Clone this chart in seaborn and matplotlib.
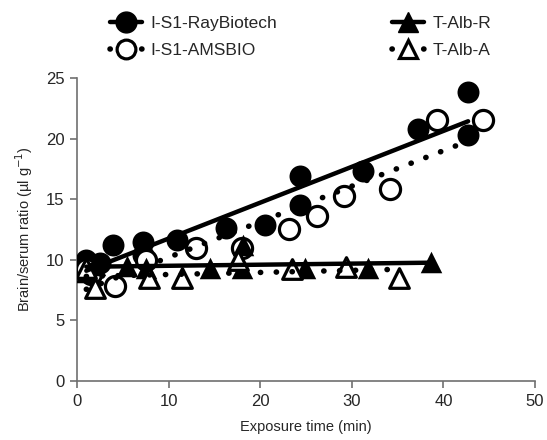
import matplotlib
matplotlib.use("Agg")
import matplotlib.pyplot as plt
from matplotlib.lines import Line2D
import seaborn as sns
import numpy as np

# ---- data ----
ray_x = [1.0, 1.5, 2.5, 3.9, 7.2, 7.2, 10.9, 16.3, 20.5, 24.3, 24.3, 31.2, 37.2, 42.7, 42.7]
ray_y = [10.0, 9.3, 9.7, 11.2, 11.5, 10.4, 11.6, 12.6, 12.9, 16.9, 14.5, 17.3, 20.8, 23.8, 20.3]

ams_x = [1.0, 1.5, 4.1, 7.5, 13.0, 18.0, 23.1, 26.2, 29.1, 34.2, 39.3, 44.3]
ams_y = [9.2, 8.8, 7.8, 10.0, 11.0, 11.0, 12.5, 13.6, 15.3, 15.8, 21.5, 21.5]

albr_x = [1.0, 2.0, 5.4, 7.5, 14.5, 18.0, 18.1, 24.9, 31.8, 38.7]
albr_y = [9.0, 9.6, 9.5, 9.3, 9.3, 9.3, 11.2, 9.3, 9.3, 9.8]

alba_x = [1.0, 2.0, 7.8, 11.4, 17.6, 23.5, 29.4, 35.1]
alba_y = [9.3, 7.7, 8.5, 8.5, 10.0, 9.2, 9.4, 8.5]

labels = ["I-S1-RayBiotech", "I-S1-AMSBIO", "T-Alb-R", "T-Alb-A"]
x_ticks = [0, 10, 20, 30, 40, 50]
y_ticks = [0, 5, 10, 15, 20, 25]

sns.set_style("white")
plt.rcParams["font.family"] = ["Liberation Sans", "DejaVu Sans"]

fig = plt.figure(figsize=(5.47, 4.40), dpi=100)
ax = fig.add_axes([0.141, 0.134, 0.837, 0.689])

dotted = (0, (0.05, 2.8))

# markers
sns.scatterplot(x=ray_x, y=ray_y, ax=ax, marker="o", s=250, color="black",
                edgecolor="black", linewidth=0, zorder=3)
sns.scatterplot(x=ams_x, y=ams_y, ax=ax, marker="o", s=210, color="white",
                edgecolor="black", linewidth=2.3, zorder=3)
sns.scatterplot(x=albr_x, y=albr_y, ax=ax, marker="^", s=240, color="black",
                edgecolor="black", linewidth=0, zorder=3)
sns.scatterplot(x=alba_x, y=alba_y, ax=ax, marker="^", s=200, color="white",
                edgecolor="black", linewidth=2.3, zorder=3)

# linear trend lines
sns.regplot(x=np.array(ray_x), y=np.array(ray_y), ax=ax, scatter=False, ci=None,
            line_kws=dict(color="black", lw=3.2, zorder=4))
sns.regplot(x=np.array(ams_x), y=np.array(ams_y), ax=ax, scatter=False, ci=None,
            line_kws=dict(color="black", lw=4.0, ls=dotted, dash_capstyle="round", zorder=4))
sns.regplot(x=np.array(albr_x), y=np.array(albr_y), ax=ax, scatter=False, ci=None,
            line_kws=dict(color="black", lw=3.2, zorder=4))
sns.regplot(x=np.array(alba_x), y=np.array(alba_y), ax=ax, scatter=False, ci=None,
            line_kws=dict(color="black", lw=4.0, ls=dotted, dash_capstyle="round", zorder=4))

ax.set_xlim(0, 50)
ax.set_ylim(0, 25)
ax.set_xticks(x_ticks)
ax.set_yticks(y_ticks)
for s in ["top", "right"]:
    ax.spines[s].set_visible(False)
for s in ["left", "bottom"]:
    ax.spines[s].set_color("#707070")
    ax.spines[s].set_linewidth(1.2)
ax.tick_params(axis="both", which="both", direction="out", length=5, width=1.2,
               color="#707070", labelsize=12, pad=4, bottom=True, left=True)

ax.set_xlabel("Exposure time (min)", fontsize=10.5, labelpad=8)
ax.set_ylabel("Brain/serum ratio (µl g$^{-1}$)", fontsize=10.5, labelpad=8)

handles = [
    Line2D([], [], color="black", lw=3.2, marker="o", markersize=15,
           markerfacecolor="black", markeredgecolor="black"),
    Line2D([], [], color="black", lw=4.0, ls=dotted, dash_capstyle="round", marker="o",
           markersize=13.5, markerfacecolor="white", markeredgecolor="black", markeredgewidth=2.3),
    Line2D([], [], color="black", lw=3.2, marker="^", markersize=15,
           markerfacecolor="black", markeredgecolor="black"),
    Line2D([], [], color="black", lw=4.0, ls=dotted, dash_capstyle="round", marker="^",
           markersize=13.5, markerfacecolor="white", markeredgecolor="black", markeredgewidth=2.3),
]
fig.legend(handles, labels, ncol=2, loc="upper left", bbox_to_anchor=(0.172, 1.0),
           frameon=False, fontsize=12.5, handlelength=1.85, handletextpad=0.5,
           columnspacing=6.6, labelspacing=0.72)

fig.savefig("out.png", dpi=100)
